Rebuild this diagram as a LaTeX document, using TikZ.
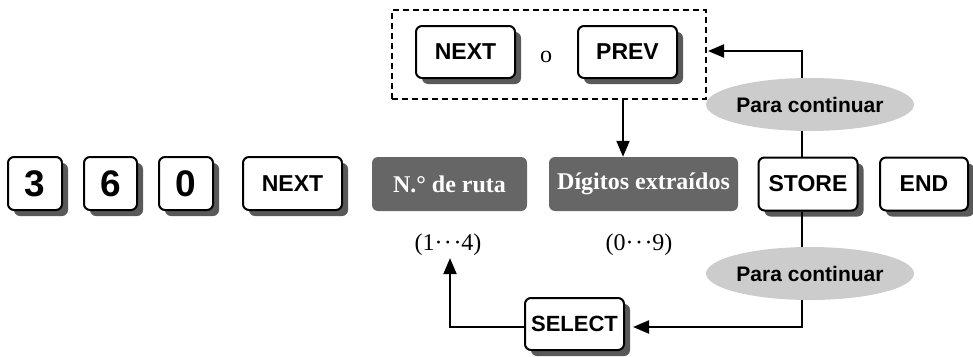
\documentclass[tikz,border=0pt]{standalone}
\usepackage{fontspec}
\setmainfont{Liberation Serif}
\setsansfont{Liberation Sans}
\usetikzlibrary{arrows.meta,shadows,shapes.geometric}
\begin{document}
\begin{tikzpicture}[x=1pt,y=-1pt,
  keybox/.style={draw,line width=2pt,rounded corners=6pt,fill=white,inner sep=0pt,
     minimum height=53pt,
     font=\sffamily\bfseries\fontsize{23}{26}\selectfont,
     drop shadow={shadow xshift=6pt,shadow yshift=-6pt,fill=black!65,opacity=1}},
  digit/.style={keybox,font=\sffamily\bfseries\fontsize{37}{40}\selectfont},
  graybox/.style={fill=black!60,rounded corners=6pt,text=white,inner sep=0pt,
     minimum height=54pt,font=\bfseries\fontsize{24}{26}\selectfont},
  ellbox/.style={ellipse,fill=black!20,inner sep=0pt,minimum width=166pt,
     minimum height=53pt,font=\sffamily\bfseries\fontsize{21}{24}\selectfont},
  conn/.style={line width=2pt},
  arr/.style={conn,-{Triangle[length=16pt,width=13pt]}},
  serif/.style={inner sep=2pt,font=\fontsize{24}{26}\selectfont},
  dashbox/.style={draw,line width=2pt,dash pattern=on 6pt off 4pt,inner sep=0pt}
]
\useasboundingbox (0,0) rectangle (973,356);

% main row of keys
\node[digit,minimum width=54pt] (k3) at (35,183.5) {3};
\node[digit,minimum width=53pt] (k6) at (110.5,183.5) {6};
\node[digit,minimum width=54pt] (k0) at (186,183.5) {0};
\node[keybox,minimum width=99pt] (knext) at (292.5,183.5) {NEXT};
\node[graybox,minimum width=155pt] (ruta) at (449.5,184) {N.° de ruta};
\node[graybox,minimum width=189pt] (dig) at (643.5,184) {Dígitos extraídos};
\node[keybox,minimum width=99pt] (store) at (808,184) {STORE};
\node[keybox,minimum width=88pt] (endk) at (924,184) {END};

% dashed group
\node[dashbox,minimum width=314pt,minimum height=89pt] (dash) at (549,54.5) {};
\node[keybox,minimum width=99pt,minimum height=52pt] (tnext) at (465.5,52) {NEXT};
\node[serif] (o) at (546,57) {o};
\node[keybox,minimum width=99pt,minimum height=52pt] (prev) at (627.5,52) {PREV};

% ranges
\node[serif] (r1) at (448,245) {(1·\kern1.5pt·\kern1.5pt·4)};
\node[serif] (r2) at (639,245) {(0·\kern1.5pt·\kern1.5pt·9)};

% select
\node[keybox,minimum width=99pt,minimum height=52pt,
      font=\sffamily\bfseries\fontsize{22}{24}\selectfont] (sel) at (574.5,324) {SELECT};

% connectors
\coordinate (ctop) at (802,51);
\coordinate (cbot) at (802,327);
\coordinate (cleft) at (450,327);
\coordinate (xa) at (623,0);
\draw[arr] (store.north -| ctop) -- (ctop) -- ([xshift=1pt]dash.east |- ctop);
\draw[arr] (dash.south -| xa) -- (dig.north -| xa);
\draw[arr] (store.south -| cbot) -- (cbot) -- ([xshift=8pt]sel.east |- cbot);
\draw[arr] (sel.west |- cleft) -- (cleft) -- (r1.south -| cleft);

% labels on the loop
\node[ellbox] (e1) at (810,104.5) {Para continuar};
\node[ellbox] (e2) at (810,273.5) {Para continuar};
\end{tikzpicture}
\end{document}
